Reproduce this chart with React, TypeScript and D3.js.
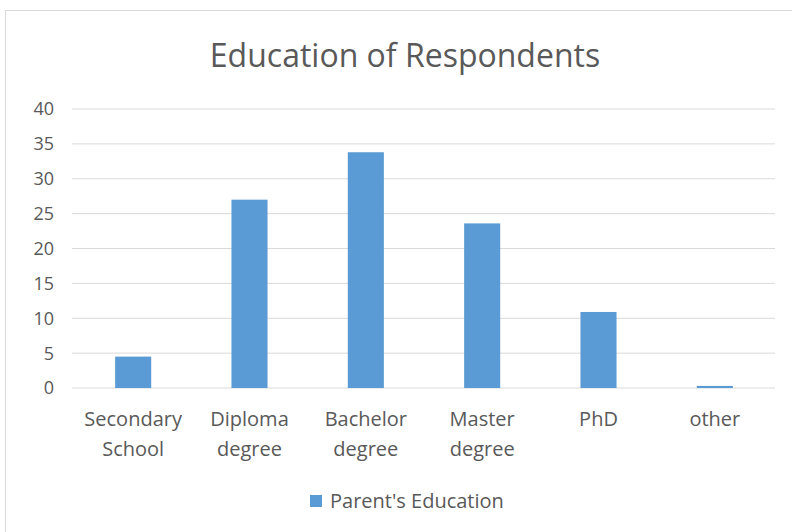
import React from "react";
import * as d3 from "d3";

const categories: string[][] = [
  ["Secondary", "School"],
  ["Diploma", "degree"],
  ["Bachelor", "degree"],
  ["Master", "degree"],
  ["PhD"],
  ["other"],
];
const values: number[] = [4.5, 27, 33.8, 23.6, 10.9, 0.3];
const yTicks: number[] = [0, 5, 10, 15, 20, 25, 30, 35, 40];
const seriesName = "Parent's Education";
const title = "Education of Respondents";

const W = 792;
const H = 532;
const FONT = "'Open Sans', 'Noto Sans', sans-serif";
const TEXT = "#595959";

export default function App() {
  const gridLeft = 72;
  const gridRight = 775;
  const top = 109;
  const bottom = 388;
  const x = d3
    .scaleBand<number>()
    .domain(categories.map((_, i) => i))
    .range([75, 773])
    .paddingInner(0.69)
    .paddingOuter(0.345);
  const y = d3.scaleLinear().domain([0, 40]).range([bottom, top]);

  return (
    <svg
      width={W}
      height={H}
      style={{ position: "absolute", left: 0, top: 0, background: "#fff" }}
      fontFamily={FONT}
    >
      <rect x={5.5} y={10.5} width={W + 10} height={H} fill="#fff" stroke="#d9d9d9" />
      <text x={405} y={67} textAnchor="middle" fontSize={32} fill={TEXT}>
        {title}
      </text>
      {yTicks.map((t) => (
        <g key={t}>
          <line x1={gridLeft} x2={gridRight} y1={y(t)} y2={y(t)} stroke="#d9d9d9" strokeWidth={1} />
          <text x={54} y={y(t)} dy="0.36em" textAnchor="end" fontSize={18} fill={TEXT}>
            {t}
          </text>
        </g>
      ))}
      {values.map((v, i) => (
        <rect
          key={i}
          x={x(i)}
          y={y(v)}
          width={x.bandwidth()}
          height={y(0) - y(v)}
          fill="#5b9bd5"
        />
      ))}
      {categories.map((lines, i) => (
        <text
          key={i}
          x={(x(i) as number) + x.bandwidth() / 2}
          y={426}
          textAnchor="middle"
          fontSize={20}
          fill={TEXT}
        >
          {lines.map((l, j) => (
            <tspan key={j} x={(x(i) as number) + x.bandwidth() / 2} dy={j === 0 ? 0 : 30}>
              {l}
            </tspan>
          ))}
        </text>
      ))}
      <rect x={310} y={495} width={12} height={12} fill="#5b9bd5" />
      <text x={330} y={501} dy="0.36em" fontSize={20} fill={TEXT}>
        {seriesName}
      </text>
    </svg>
  );
}
